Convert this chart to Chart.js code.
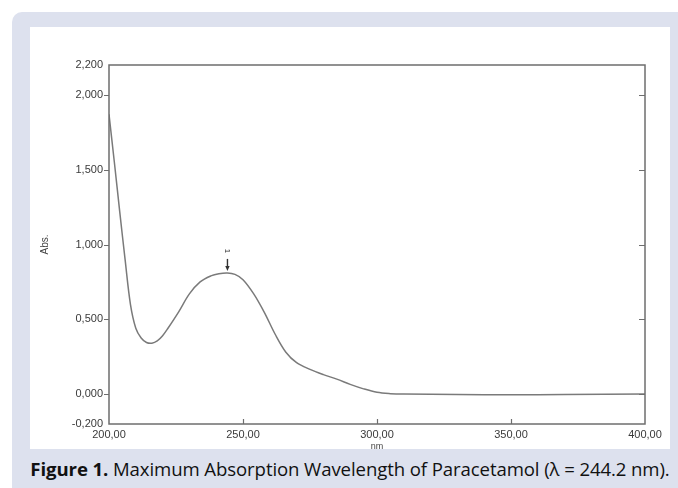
<!DOCTYPE html>
<html>
<head>
<meta charset="utf-8">
<script src="https://cdn.jsdelivr.net/npm/chart.js@4.4.1/dist/chart.umd.min.js"></script>
<style>
    html, body { margin: 0; padding: 0; background: #ffffff; width: 678px; height: 488px; overflow: hidden; }
    .panel { position: absolute; left: 12px; top: 12px; width: 700px; height: 500px; background: #dde1ee; border-radius: 10px; }
    .plot { position: absolute; left: 30px; top: 27px; width: 640px; height: 422px; background: #ffffff; overflow: hidden; }
    .plot canvas { position: absolute; left: 0; top: 0; }
    .caption { position: absolute; left: 10px; top: 456px; width: 680px; text-align: center; white-space: nowrap;
               font-family: "Open Sans", sans-serif; font-size: 18.6px; color: #111; letter-spacing: -0.1px; }
    .caption b { font-weight: 700; }
</style>
</head>
<body>
<div class="panel"></div>
<div class="plot"><canvas id="spectrum" width="640" height="425"></canvas></div>
<div class="caption"><b>Figure 1.</b> Maximum Absorption Wavelength of Paracetamol (λ = 244.2 nm).</div>

<script>
// spectrum
const wavelengths = [200, 202, 204, 206, 208, 210, 212, 214, 216, 218, 220, 222, 226, 230, 234, 238, 241, 244.2, 247, 250,
    254, 258, 262, 266, 270, 275, 280, 285, 290, 295, 300, 305, 310, 330, 350, 370, 400];
const absorbance = [1.87, 1.55, 1.22, 0.90, 0.60, 0.44, 0.375, 0.345, 0.34, 0.355, 0.39, 0.44, 0.55, 0.67, 0.75, 0.79, 0.805, 0.81, 0.80, 0.765,
    0.67, 0.545, 0.40, 0.28, 0.21, 0.165, 0.13, 0.10, 0.065, 0.035, 0.012, 0.003, 0, -0.003, -0.005, -0.003, 0];

const xTicks = [200, 250, 300, 350, 400];
const yTicks = [-0.2, 0, 0.5, 1.0, 1.5, 2.0, 2.2];
const yMarks = [0, 0.5, 1.0, 1.5, 2.0];
const xMarks = [250, 300, 350];

// peak pick
const peakLabels = ['1'];
const peakWavelengths = [244.2];
const peakValues = [0.81];

const axisColor = '#6e6e6e';
const labelFont = { family: 'Liberation Sans, Arial, sans-serif', size: 11 };

const frame = {
    id: 'frame',
    afterDraw(chart) {
        const ctx = chart.ctx;
        const a = chart.chartArea;
        const xs = chart.scales.x, ys = chart.scales.y;
        ctx.save();
        ctx.strokeStyle = axisColor;
        ctx.lineWidth = 1.5;
        ctx.strokeRect(a.left, a.top, a.right - a.left, a.bottom - a.top);

        ctx.lineWidth = 1.2;
        ctx.beginPath();
        yMarks.forEach(v => {
            const y = Math.round(ys.getPixelForValue(v)) + 0.5;
            ctx.moveTo(a.left - 5, y); ctx.lineTo(a.left, y);
            ctx.moveTo(a.right - 6, y); ctx.lineTo(a.right, y);
        });
        xMarks.forEach(v => {
            const x = Math.round(xs.getPixelForValue(v)) + 0.5;
            ctx.moveTo(x, a.bottom); ctx.lineTo(x, a.bottom - 5);
        });
        ctx.stroke();

        // peak arrow + label
        ctx.fillStyle = '#333';
        ctx.strokeStyle = '#333';
        peakWavelengths.forEach((w, i) => {
            const x = xs.getPixelForValue(w);
            const y = ys.getPixelForValue(peakValues[i]) - 2;
            ctx.lineWidth = 1.4;
            ctx.beginPath();
            ctx.moveTo(x, y - 12); ctx.lineTo(x, y - 3);
            ctx.stroke();
            ctx.beginPath();
            ctx.moveTo(x - 2.2, y - 5); ctx.lineTo(x + 2.2, y - 5); ctx.lineTo(x, y);
            ctx.closePath();
            ctx.fill();
            ctx.save();
            ctx.translate(x, y - 20);
            ctx.rotate(Math.PI / 2);
            ctx.font = '8px Liberation Sans, Arial, sans-serif';
            ctx.textAlign = 'center';
            ctx.textBaseline = 'middle';
            ctx.fillText(peakLabels[i], 0, 0);
            ctx.restore();
        });
        ctx.restore();
    }
};

new Chart(document.getElementById('spectrum'), {
    type: 'line',
    data: {
        datasets: [{
            data: wavelengths.map((w, i) => ({ x: w, y: absorbance[i] })),
            borderColor: '#7a7a7a',
            borderWidth: 1.5,
            pointRadius: 0,
            tension: 0.35,
            fill: false
        }]
    },
    options: {
        responsive: false,
        animation: false,
        layout: { padding: { top: 38, right: 25, left: 0, bottom: 0 } },
        plugins: { legend: { display: false }, tooltip: { enabled: false } },
        scales: {
            x: {
                type: 'linear',
                min: 200,
                max: 400,
                afterFit(scale) { scale.height = 28; },
                afterBuildTicks(scale) { scale.ticks = xTicks.map(v => ({ value: v })); },
                grid: { display: false, drawTicks: false },
                border: { display: false },
                ticks: {
                    padding: 4,
                    color: '#3a3a3a',
                    font: labelFont,
                    maxRotation: 0,
                    autoSkip: false,
                    callback: v => v.toFixed(2).replace('.', ',')
                },
                title: { display: true, text: 'nm', color: '#444', font: { family: 'Liberation Sans, Arial, sans-serif', size: 9 }, padding: { top: 0, bottom: 0 } }
            },
            y: {
                min: -0.2,
                max: 2.2,
                afterFit(scale) { scale.width = 79; },
                afterBuildTicks(scale) { scale.ticks = yTicks.map(v => ({ value: v })); },
                grid: { display: false, drawTicks: false },
                border: { display: false },
                ticks: {
                    padding: 6,
                    color: '#3a3a3a',
                    font: labelFont,
                    autoSkip: false,
                    callback: v => v.toFixed(3).replace('.', ',')
                },
                title: { display: true, text: 'Abs.', color: '#444', font: { family: 'Liberation Sans, Arial, sans-serif', size: 10 }, padding: { top: 9, bottom: 0 } }
            }
        }
    },
    plugins: [frame]
});
</script>
</body>
</html>
